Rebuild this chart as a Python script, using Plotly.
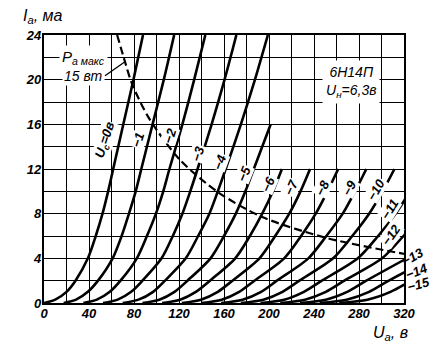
import plotly.graph_objects as go

# Anode current levels (mA) at which each characteristic was read
ia_levels = [0, 0.3, 1, 2, 4, 6, 8, 10, 12, 16, 20, 24]

# Grid voltages (V) of the characteristics
grid_volts = [0, -1, -2, -3, -4, -5, -6, -7, -8, -9, -10, -11, -12, -13, -14, -15]

# Anode voltage (V) of each characteristic at the current levels above
ua_g0 = [0, 10, 20, 28, 39, 46, 52, 57, 61.5, 70.5, 79.5, 88]
ua_g1 = [17.5, 28.5, 39, 48, 61, 69, 75.5, 81.5, 86.5, 96.5, 106.5, 115.7]
ua_g2 = [35, 47, 58.5, 68, 82.5, 91.5, 99.5, 106, 111.5, 123, 133.5, 143.4]
ua_g3 = [52.5, 65.5, 77.5, 87.5, 104.5, 114.5, 123, 130, 136.5, 149, 160.5, 171]
ua_g4 = [70, 84, 97, 107.5, 126, 137, 147, 154.5, 161.5, 175, 187.5, 199]
ua_g5 = [87.5, 102.5, 116, 127.5, 148, 160, 170.5, 179, 186.5, 201.5]
ua_g6 = [105, 121, 135, 147.5, 170, 183, 194, 203.5, 211.5]
ua_g7 = [122.5, 139.5, 154.5, 167.5, 191.5, 205.5, 218, 228, 236.5]
ua_g8 = [140, 158, 173.5, 187, 213.5, 228.5, 241.5, 252, 261.5]
ua_g9 = [157.5, 176.5, 193, 207, 235, 251, 265.5, 276.5, 286.5]
ua_g10 = [175, 195, 212, 227, 257, 274, 289, 301, 311.5]
ua_g11 = [192.5, 213.5, 231, 247, 279, 297, 312.5, 325.5]
ua_g12 = [210, 232, 250.5, 267, 300.5, 319.5, 336.5]
ua_g13 = [227.5, 250.5, 269.5, 286.5, 322.5]
ua_g14 = [245, 269, 289, 306.5, 344]
ua_g15 = [262.5, 287.5, 308, 326.5]

# Maximum anode dissipation boundary
pa_ua = [65, 72, 78, 93, 121, 155, 194, 252, 320]
pa_ia = [24, 21.6, 19.7, 16.6, 12.8, 9.9, 7.7, 5.8, 4.4]

# Curve labels inside the grid: text, position (V, mA) and rotation
lbl_text = ["U<sub>c</sub>=0в", "−1", "−2", "−3", "−4", "−5", "−6", "−7", "−8",
            "−9", "−10", "−11", "−12"]
lbl_ua = [55, 84, 112, 137, 156, 178, 199, 220, 248, 272, 295, 307, 309]
lbl_ia = [14.6, 14.6, 15.0, 13.4, 12.6, 11.6, 10.65, 10.3, 10.3, 10.3, 10.2, 8.4, 6.1]
lbl_angle = [-72, -72, -72, -72, -70, -68, -66, -66, -64, -62, -60, -58, -55]

# Labels of the last curves, set beside the right frame (pixel position)
edge_text = ["−13", "−14", "−15"]
edge_px = [(413, 256), (416, 271), (418, 284)]
edge_angle = [-30, -22, -15]

x_ticks = [0, 40, 80, 120, 160, 200, 240, 280, 320]
y_ticks = [0, 4, 8, 12, 16, 20, 24]

FONT = "Liberation Sans"
ua_curves = [ua_g0, ua_g1, ua_g2, ua_g3, ua_g4, ua_g5, ua_g6, ua_g7,
             ua_g8, ua_g9, ua_g10, ua_g11, ua_g12, ua_g13, ua_g14, ua_g15]

# plot area in pixels: left 44, right 404, top 35, bottom 303
def px_to_paper(px, py):
    return (px - 44) / 360, (303 - py) / 268

fig = go.Figure()

for g, ua in zip(grid_volts, ua_curves):
    fig.add_trace(go.Scatter(
        x=ua, y=ia_levels[:len(ua)], mode="lines",
        line=dict(color="black", width=2.6, shape="spline", smoothing=0.8),
        name=f"Uc={g}", hoverinfo="skip"))

fig.add_trace(go.Scatter(
    x=pa_ua, y=pa_ia, mode="lines",
    line=dict(color="black", width=2.2, dash="8px,4px", shape="spline", smoothing=0.8),
    name="Pa max", hoverinfo="skip"))

lbl_font = dict(family=FONT, size=13, color="black", style="italic", weight="bold")
annotations = []
for t, x, y, a in zip(lbl_text, lbl_ua, lbl_ia, lbl_angle):
    annotations.append(dict(
        x=x, y=y, xref="x", yref="y", text=t, showarrow=False, textangle=a,
        xanchor="center", yanchor="middle",
        font=lbl_font, bgcolor="white", borderpad=0))

for t, (px, py), a in zip(edge_text, edge_px, edge_angle):
    xp, yp = px_to_paper(px, py)
    annotations.append(dict(
        x=xp, y=yp, xref="paper", yref="paper", text=t, showarrow=False, textangle=a,
        xanchor="center", yanchor="middle", font=lbl_font))

# Dissipation label with leader to the dashed boundary
annotations.append(dict(
    x=35, y=22.0, xref="x", yref="y", text="P<sub>а макс</sub>", showarrow=False,
    xanchor="center", yanchor="middle",
    font=dict(family=FONT, size=15, color="black", style="italic"),
    bgcolor="white", borderpad=2))
annotations.append(dict(
    x=pa_ua[1], y=pa_ia[1], xref="x", yref="y", text="15 вт", showarrow=True,
    arrowhead=0, arrowwidth=1.3, arrowcolor="black", ax=-20, ay=14,
    xanchor="right", yanchor="middle",
    font=dict(family=FONT, size=14, color="black", style="italic"),
    bgcolor="white", borderpad=1))

# Tube type and heater voltage
annotations.append(dict(
    x=273, y=19.8, xref="x", yref="y",
    text="6Н14П<br>U<sub>н</sub>=6,3в", showarrow=False, align="center",
    xanchor="center", yanchor="middle",
    font=dict(family=FONT, size=14, color="black", style="italic"),
    bgcolor="white", borderpad=3))

# Axis titles
for t, (px, py) in [("I<sub>а</sub>, ма", (43, 16)), ("U<sub>а</sub>, в", (390, 333))]:
    xp, yp = px_to_paper(px, py)
    annotations.append(dict(
        x=xp, y=yp, xref="paper", yref="paper", text=t, showarrow=False,
        xanchor="center", yanchor="middle",
        font=dict(family=FONT, size=16, color="black", style="italic")))

tick_font = dict(family=FONT, size=13, color="black", style="italic", weight="bold")
axis_common = dict(
    showgrid=True, gridcolor="black", gridwidth=1.3,
    showline=True, linecolor="black", linewidth=2.2, mirror=True,
    ticks="", zeroline=False, tickfont=tick_font, fixedrange=True)

fig.update_xaxes(range=[0, 320], tickvals=x_ticks, ticktext=[str(v) for v in x_ticks],
                 ticklabelstandoff=-3,
                 minor=dict(dtick=20, tick0=0, showgrid=True, gridcolor="black", gridwidth=1.3),
                 **axis_common)
fig.update_yaxes(range=[0, 24], tickvals=y_ticks, ticktext=[str(v) for v in y_ticks],
                 ticklabelstandoff=-2,
                 minor=dict(dtick=2, tick0=0, showgrid=True, gridcolor="black", gridwidth=1.3),
                 **axis_common)

fig.update_layout(
    width=439, height=347, margin=dict(l=44, r=35, t=35, b=44),
    paper_bgcolor="white", plot_bgcolor="white", showlegend=False,
    annotations=annotations)

fig.write_html("out.html", config={"displayModeBar": False})
